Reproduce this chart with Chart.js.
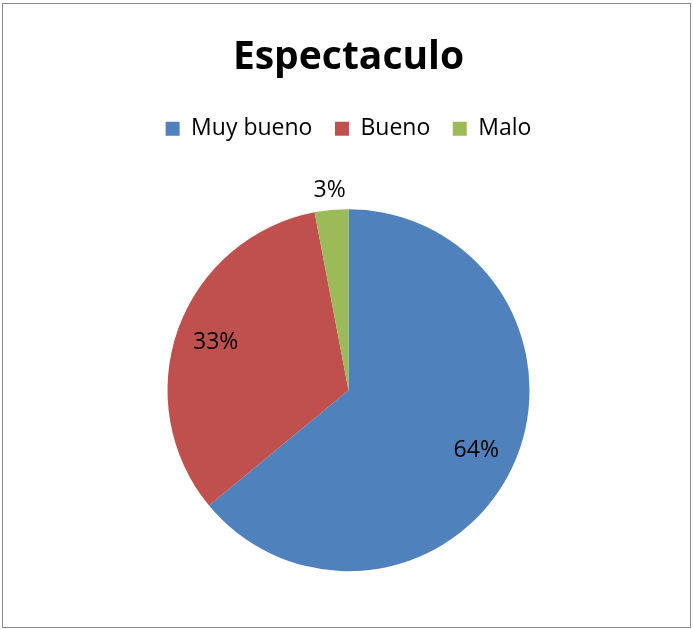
<!DOCTYPE html>
<html>
<head>
<meta charset="utf-8">
<script src="https://cdn.jsdelivr.net/npm/chart.js@4/dist/chart.umd.min.js"></script>
<style>
  html, body { margin: 0; padding: 0; background: #fff; overflow: hidden; }
  #wrap { position: relative; width: 693px; height: 629px; overflow: hidden; }
  #myChart { position: absolute; left: 2px; top: 0; }
  #frame {
    position: absolute; left: 2px; top: 3px; right: 2px; bottom: 1px;
    border: 1px solid #8a8a8a; pointer-events: none;
  }
</style>
</head>
<body>
<div id="wrap">
  <canvas id="myChart" width="693" height="630"></canvas>
  <div id="frame"></div>
</div>
<script>
var labels = ['Muy bueno', 'Bueno', 'Malo']
var values = [64, 33, 3]
var colors = ['#4F81BD', '#C0504D', '#9BBB59']

// percentage labels: inside for big slices, just outside for tiny ones
var pctLabels = {
  id: 'pctLabels',
  afterDatasetsDraw: function (chart) {
    var ctx = chart.ctx
    var total = values.reduce(function (a, b) { return a + b }, 0)
    var meta = chart.getDatasetMeta(0)
    ctx.save()
    ctx.font = '23px "Open Sans"'
    ctx.fillStyle = '#000'
    ctx.textAlign = 'center'
    ctx.textBaseline = 'middle'
    meta.data.forEach(function (arc, i) {
      var p = arc.getProps(['x', 'y', 'startAngle', 'endAngle', 'outerRadius'], true)
      var pct = Math.round(values[i] / total * 100)
      var mid = (p.startAngle + p.endAngle) / 2
      var r = pct < 5 ? p.outerRadius + 20 : p.outerRadius * 0.78
      ctx.fillText(pct + '%', p.x + Math.cos(mid) * r, p.y + Math.sin(mid) * r)
    })
    ctx.restore()
  }
}

var ctx = document.getElementById('myChart').getContext('2d')
var myChart = new Chart(ctx, {
  type: 'pie',
  data: {
    labels: labels,
    datasets: [
      {
        data: values,
        backgroundColor: colors,
        borderWidth: 0,
      },
    ],
  },
  options: {
    responsive: false,
    animation: false,
    events: [],
    radius: 181,
    layout: { padding: 0 },
    plugins: {
      title: {
        display: true,
        text: 'Espectaculo',
        color: '#000',
        font: { family: '"Open Sans"', size: 39, weight: 'bold', lineHeight: 1.2 },
        padding: { top: 34, bottom: 14 },
      },
      legend: {
        position: 'top',
        labels: {
          color: '#000',
          font: { family: '"Open Sans"', size: 23 },
          boxWidth: 14,
          boxHeight: 14,
          padding: 22.5,
        },
      },
      tooltip: { enabled: false },
    },
  },
  plugins: [pctLabels],
})
</script>
</body>
</html>
